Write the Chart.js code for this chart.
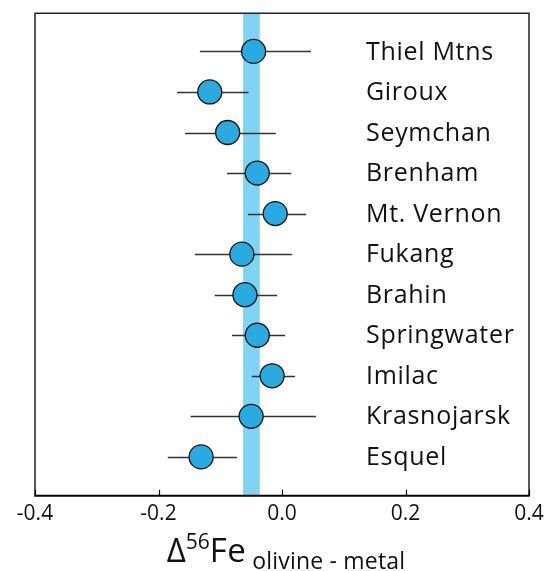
<!DOCTYPE html>
<html>
<head>
<meta charset="utf-8">
<script src="https://cdn.jsdelivr.net/npm/chart.js@4.4.1/dist/chart.umd.min.js"></script>
<style>
  html, body { margin: 0; padding: 0; background: #fff; }
  #wrap { width: 544px; height: 571px; }
</style>
</head>
<body>
<div id="wrap"><canvas id="feChart" width="544" height="571"></canvas></div>
<script>
// Delta 56Fe olivine - metal for pallasites
const meteorites = ['Thiel Mtns', 'Giroux', 'Seymchan', 'Brenham', 'Mt. Vernon', 'Fukang',
  'Brahin', 'Springwater', 'Imilac', 'Krasnojarsk', 'Esquel'];
const deltaFe = [-0.046, -0.117, -0.088, -0.040, -0.011, -0.065, -0.060, -0.040, -0.016, -0.050, -0.131];
const errLow  = [-0.133, -0.170, -0.157, -0.089, -0.055, -0.141, -0.109, -0.081, -0.049, -0.148, -0.185];
const errHigh = [ 0.047, -0.054, -0.010,  0.015,  0.039,  0.016, -0.008,  0.005,  0.021,  0.055, -0.073];
const bandRange = [-0.063, -0.036];
const xTicks = [-0.4, -0.2, 0.0, 0.2, 0.4];

const FONT = "'Open Sans', 'Noto Sans', sans-serif";

const framePlugin = {
  id: 'frame',
  beforeDatasetsDraw(chart) {
    const { ctx, chartArea: a, scales: { x, y } } = chart;
    ctx.save();
    // mean band
    const b0 = x.getPixelForValue(bandRange[0]);
    const b1 = x.getPixelForValue(bandRange[1]);
    ctx.fillStyle = '#80d4f3';
    ctx.fillRect(b0, a.top, b1 - b0, a.bottom - a.top);
    // error bars
    ctx.strokeStyle = '#333';
    ctx.lineWidth = 1.3;
    meteorites.forEach((m, i) => {
      const py = Math.round(y.getPixelForValue(i)) + 0.5;
      ctx.beginPath();
      ctx.moveTo(x.getPixelForValue(errLow[i]), py);
      ctx.lineTo(x.getPixelForValue(errHigh[i]), py);
      ctx.stroke();
    });
    ctx.restore();
  },
  afterDraw(chart) {
    const { ctx, chartArea: a, scales: { x, y } } = chart;
    ctx.save();
    // box
    ctx.strokeStyle = '#222';
    ctx.lineWidth = 1.5;
    ctx.beginPath();
    ctx.moveTo(a.left, a.bottom);
    ctx.lineTo(a.left, a.top);
    ctx.lineTo(a.right, a.top);
    ctx.lineTo(a.right, a.bottom);
    ctx.stroke();
    ctx.strokeStyle = '#000';
    ctx.lineWidth = 2;
    ctx.beginPath();
    ctx.moveTo(a.left - 0.75, a.bottom);
    ctx.lineTo(a.right + 0.75, a.bottom);
    ctx.stroke();
    // inward ticks
    ctx.lineWidth = 1.2;
    xTicks.forEach(t => {
      const px = Math.round(x.getPixelForValue(t)) + 0.5;
      ctx.beginPath();
      ctx.moveTo(px, a.bottom);
      ctx.lineTo(px, a.bottom - 6);
      ctx.stroke();
    });
    // meteorite names
    ctx.fillStyle = '#111';
    ctx.font = '25px ' + FONT;
    ctx.letterSpacing = '0.7px';
    ctx.textAlign = 'left';
    ctx.textBaseline = 'middle';
    meteorites.forEach((m, i) => {
      ctx.fillText(m, x.getPixelForValue(0.136), y.getPixelForValue(i) + 1);
    });
    // axis title: Δ56Fe olivine - metal
    const base = 562;
    const parts = [
      { t: '\u0394', f: '33px ' + FONT, dy: 0, ls: '0px' },
      { t: '56', f: '21px ' + FONT, dy: -13, ls: '0px' },
      { t: 'Fe', f: '33px ' + FONT, dy: 0, ls: '0.3px' },
      { t: ' olivine - metal', f: '23px ' + FONT, dy: 7, ls: '0.2px' }
    ];
    let w = 0;
    parts.forEach(p => { ctx.font = p.f; ctx.letterSpacing = p.ls; w += ctx.measureText(p.t).width; });
    let cx = 286 - w / 2;
    ctx.textBaseline = 'alphabetic';
    parts.forEach(p => {
      ctx.font = p.f;
      ctx.letterSpacing = p.ls;
      ctx.fillText(p.t, cx, base + p.dy);
      cx += ctx.measureText(p.t).width;
    });
    ctx.restore();
  }
};

new Chart(document.getElementById('feChart'), {
  type: 'scatter',
  data: {
    datasets: [{
      label: 'Delta 56Fe',
      data: deltaFe.map((v, i) => ({ x: v, y: i })),
      backgroundColor: '#29abe2',
      borderColor: '#111',
      borderWidth: 1.3,
      pointRadius: 12,
      pointHoverRadius: 12
    }]
  },
  options: {
    responsive: false,
    animation: false,
    layout: { padding: { left: 35, right: 15, top: 13, bottom: 38 } },
    plugins: {
      legend: { display: false },
      tooltip: { enabled: false }
    },
    scales: {
      x: {
        type: 'linear',
        min: -0.4,
        max: 0.4,
        afterBuildTicks: axis => { axis.ticks = xTicks.map(v => ({ value: v })); },
        afterFit: axis => { axis.paddingLeft = 0; axis.paddingRight = 0; },
        grid: { display: false, drawTicks: false },
        border: { display: false },
        ticks: {
          color: '#111',
          padding: 6,
          font: { family: FONT, size: 21 },
          callback: v => v.toFixed(1)
        }
      },
      y: {
        type: 'linear',
        display: false,
        reverse: true,
        min: -0.94,
        max: 10.96
      }
    }
  },
  plugins: [framePlugin]
});
</script>
</body>
</html>
